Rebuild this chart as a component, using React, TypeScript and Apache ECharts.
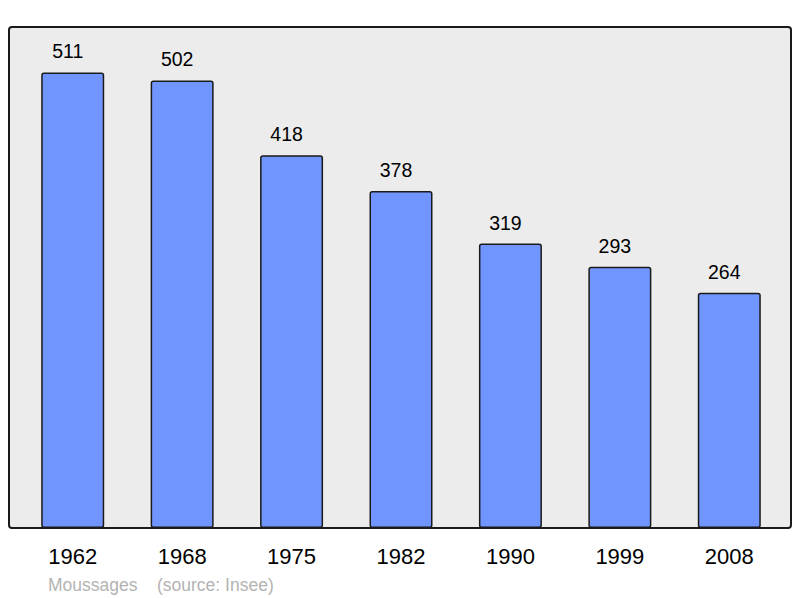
import React, { useEffect, useRef } from "react";
import * as echarts from "echarts";

const years = ["1962", "1968", "1975", "1982", "1990", "1999", "2008"];
const population = [511, 502, 418, 378, 319, 293, 264];
const yMax = 562;
const commune = "Moussages";
const source = "(source: Insee)";

export default function App() {
  const ref = useRef<HTMLDivElement>(null);
  useEffect(() => {
    if (!ref.current) return;
    const chart = echarts.init(ref.current, null, { renderer: "svg" });
    const font = "'Liberation Sans', Arial, sans-serif";
    chart.setOption({
      animation: false,
      grid: { left: 18, right: 16, top: 27, bottom: 70 },
      xAxis: {
        type: "category",
        data: years,
        axisLine: { show: false },
        axisTick: { show: false },
        axisLabel: { color: "#000", fontSize: 22, fontFamily: font, margin: 17 },
      },
      yAxis: {
        type: "value",
        min: 0,
        max: yMax,
        show: false,
        splitLine: { show: false },
      },
      graphic: [
        {
          type: "rect",
          z: -10,
          silent: true,
          shape: { x: 9, y: 27, width: 782, height: 501, r: 3 },
          style: { fill: "#ececec", stroke: "none" },
        },
        {
          type: "rect",
          z: 100,
          silent: true,
          shape: { x: 9, y: 27, width: 782, height: 501, r: 3 },
          style: { fill: "none", stroke: "#1a1a1a", lineWidth: 2 },
        },
        {
          type: "text",
          left: 48,
          top: 576,
          style: { text: commune, fill: "#b3b3b3", fontSize: 17.5, fontFamily: font },
        },
        {
          type: "text",
          left: 157,
          top: 576,
          style: { text: source, fill: "#b3b3b3", fontSize: 17.5, fontFamily: font },
        },
      ],
      series: [
        {
          type: "bar",
          data: population,
          barWidth: 63,
          itemStyle: {
            color: "#7195ff",
            borderColor: "#1a1a1a",
            borderWidth: 1.5,
            borderRadius: 2,
          },
          label: {
            show: true,
            position: "top",
            distance: 11,
            offset: [-5, 0],
            color: "#000",
            fontSize: 19.5,
            fontFamily: font,
          },
        },
      ],
    });
    return () => chart.dispose();
  }, []);
  return <div ref={ref} style={{ width: 800, height: 598, position: "absolute", left: 0, top: 0 }} />;
}
